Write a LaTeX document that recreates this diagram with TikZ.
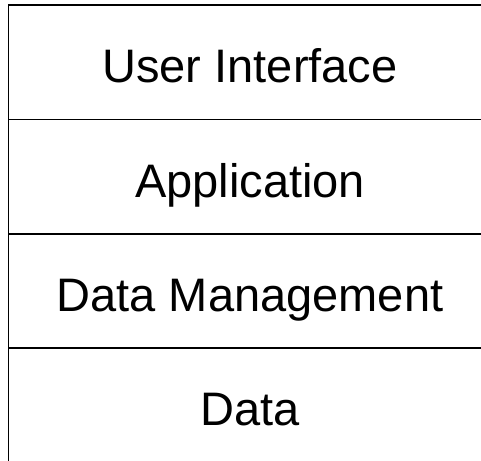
\documentclass[tikz,border=0pt]{standalone}
\usepackage{fontspec}
\setmainfont{Liberation Sans}
\usetikzlibrary{positioning}

\begin{document}
\begin{tikzpicture}[x=1pt,y=1pt,
  layer/.style={draw,line width=1.5pt,minimum width=483pt,minimum height=114.4pt,
    inner sep=0pt,outer sep=0pt,text height=41pt,text depth=0pt,
    font=\fontsize{47}{56}\selectfont}]
  % frame of the picture
  \useasboundingbox (0,0) rectangle (481,-460);
  \clip (0,0) rectangle (481,-460);
  % layers, top to bottom
  \node[layer,anchor=north west] (ui) at (8.5,-5) {User Interface};
  \node[layer,below=0pt of ui] (app) {Application};
  \node[layer,below=0pt of app] (dm) {Data Management};
  \node[layer,below=0pt of dm] (data) {Data};
\end{tikzpicture}
\end{document}
